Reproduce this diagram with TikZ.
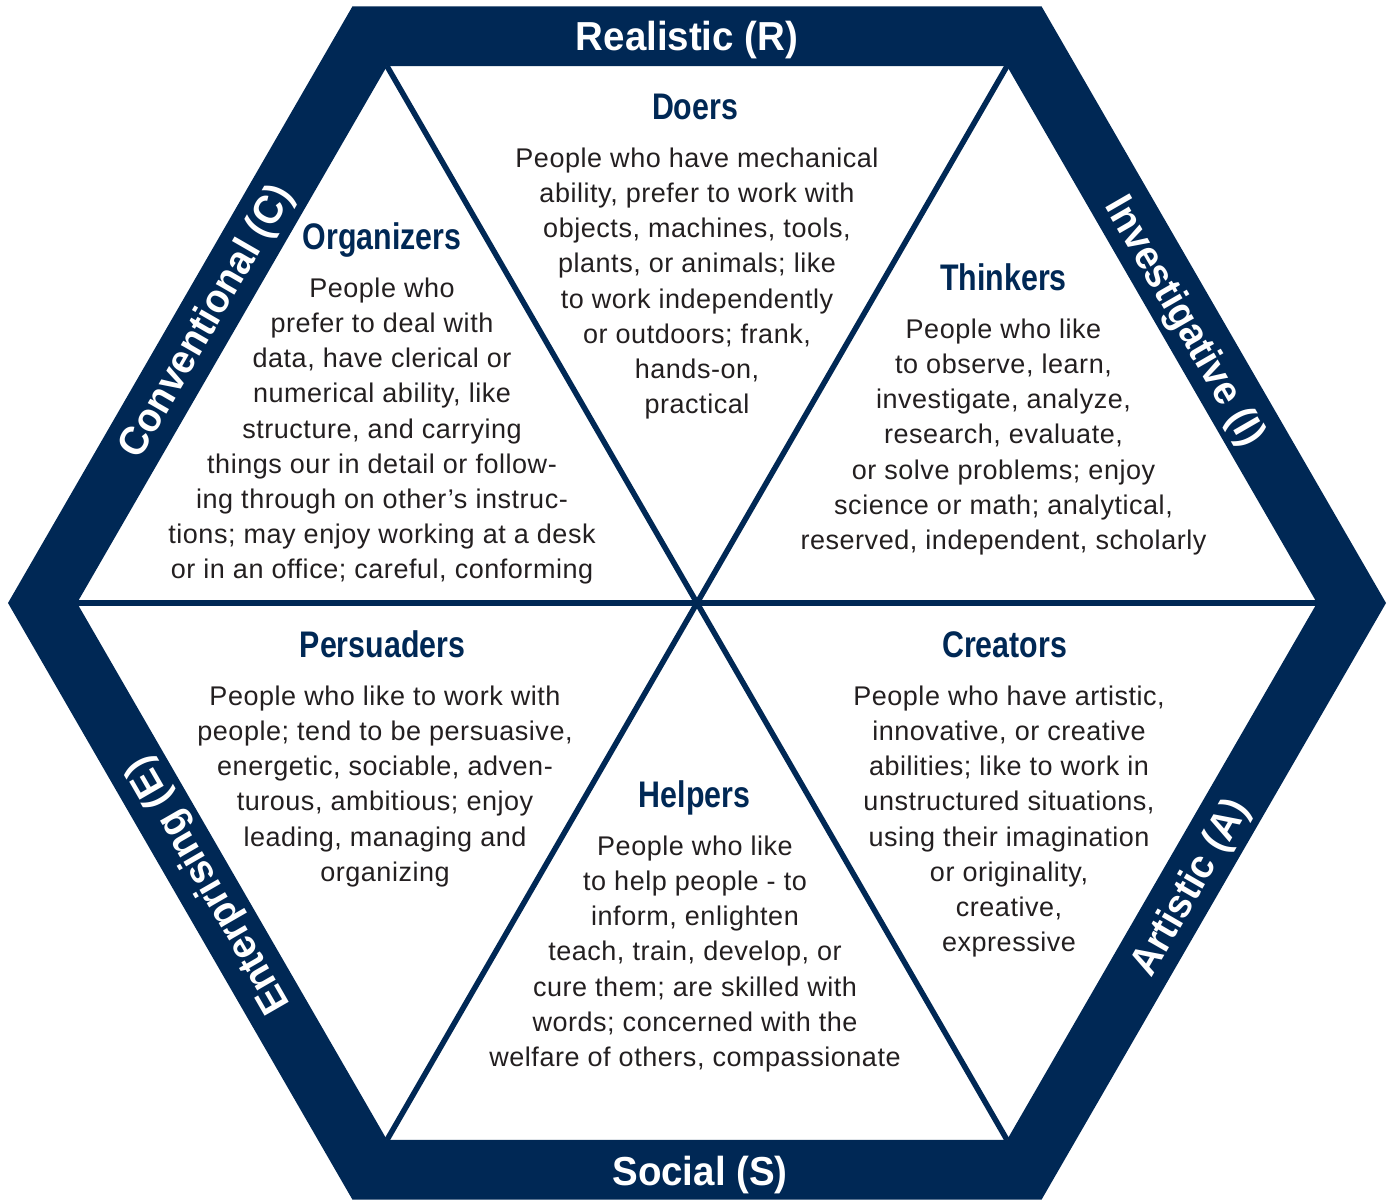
\documentclass[tikz,border=0pt]{standalone}
\usepackage{fontspec}
\newfontfamily\bodyfont[LetterSpace=2]{Liberation Sans}
\newfontfamily\headfont[FakeStretch=0.82]{Liberation Sans}
\newfontfamily\bandfont[FakeStretch=0.95]{Liberation Sans}
\definecolor{navy}{RGB}{0,40,85}
\definecolor{ink}{RGB}{35,31,32}
\tikzset{
  blockbody/.style={font=\bodyfont\fontsize{27}{35.2}\selectfont, text=ink, align=center, inner sep=0pt, anchor=north},
  blockhead/.style={font=\headfont\bfseries\fontsize{37}{40}\selectfont, text=navy, inner sep=0pt, anchor=base},
  bandlabel/.style={font=\bandfont\bfseries\fontsize{40.5}{42}\selectfont, text=white, inner sep=0pt, text height=29pt, text depth=0pt, anchor=center},
  spoke/.style={draw=navy, line width=5.5pt}
}
\begin{document}
\begin{tikzpicture}[x=1pt,y=-1pt]
\useasboundingbox (0,0) rectangle (1388,1199);
\fill[white] (0,0) rectangle (1388,1199);
% hexagon vertices
\coordinate (c) at (697,603);
\coordinate (o1) at (1386,603);
\coordinate (o2) at (1041.5,6.3);
\coordinate (o3) at (352.5,6.3);
\coordinate (o4) at (8,603);
\coordinate (o5) at (352.5,1199.7);
\coordinate (o6) at (1041.5,1199.7);
\coordinate (i1) at (1317,603);
\coordinate (i2) at (1007,66.1);
\coordinate (i3) at (387,66.1);
\coordinate (i4) at (77,603);
\coordinate (i5) at (387,1139.9);
\coordinate (i6) at (1007,1139.9);
\fill[navy, even odd rule] (o1)--(o2)--(o3)--(o4)--(o5)--(o6)--cycle
  (i1)--(i2)--(i3)--(i4)--(i5)--(i6)--cycle;
\foreach \v in {i1,i2,i3,i4,i5,i6} \draw[spoke] (c) -- (\v);
% band labels
\node[bandlabel] (lr) at (687,36) {Realistic (R)};
\node[bandlabel] (ls) at (700,1171) {Social (S)};
\node[bandlabel, rotate=60] (lc) at (204,320) {Conventional (C)};
\node[bandlabel, rotate=-60] (li) at (1187,320) {Investigative (I)};
\node[bandlabel, rotate=120] (le) at (206,887) {Enterprising (E)};
\node[bandlabel, rotate=60] (la) at (1188,886) {Artistic (A)};
% headings
\node[blockhead] (hd) at (695,119.5) {Doers};
\node[blockhead] (ho) at (382,249) {Organizers};
\node[blockhead] (ht) at (1003.5,290) {Thinkers};
\node[blockhead] (hp) at (382.5,657) {Persuaders};
\node[blockhead] (hh) at (694.5,807) {Helpers};
\node[blockhead] (hc) at (1004.5,657) {Creators};
% bodies
\node[blockbody] (bd) at (697,147) {\rule{0pt}{20pt}People who have mechanical\\ability, prefer to work with\\objects, machines, tools,\\plants, or animals; like\\to work independently\\or outdoors; frank,\\hands-on,\\practical};
\node[blockbody] (bo) at (382,277) {\rule{0pt}{20pt}People who\\prefer to deal with\\data, have clerical or\\numerical ability, like\\structure, and carrying\\things our in detail or follow-\\ing through on other’s instruc-\\tions; may enjoy working at a desk\\or in an office; careful, conforming};
\node[blockbody] (bt) at (1003.5,318) {\rule{0pt}{20pt}People who like\\to observe, learn,\\investigate, analyze,\\research, evaluate,\\or solve problems; enjoy\\science or math; analytical,\\reserved, independent, scholarly};
\node[blockbody] (bp) at (385,685) {\rule{0pt}{20pt}People who like to work with\\people; tend to be persuasive,\\energetic, sociable, adven-\\turous, ambitious; enjoy\\leading, managing and\\organizing};
\node[blockbody] (bh) at (695,835) {\rule{0pt}{20pt}People who like\\to help people - to\\inform, enlighten\\teach, train, develop, or\\cure them; are skilled with\\words; concerned with the\\welfare of others, compassionate};
\node[blockbody] (bc) at (1009,685) {\rule{0pt}{20pt}People who have artistic,\\innovative, or creative\\abilities; like to work in\\unstructured situations,\\using their imagination\\or originality,\\creative,\\expressive};
\end{tikzpicture}
\end{document}
